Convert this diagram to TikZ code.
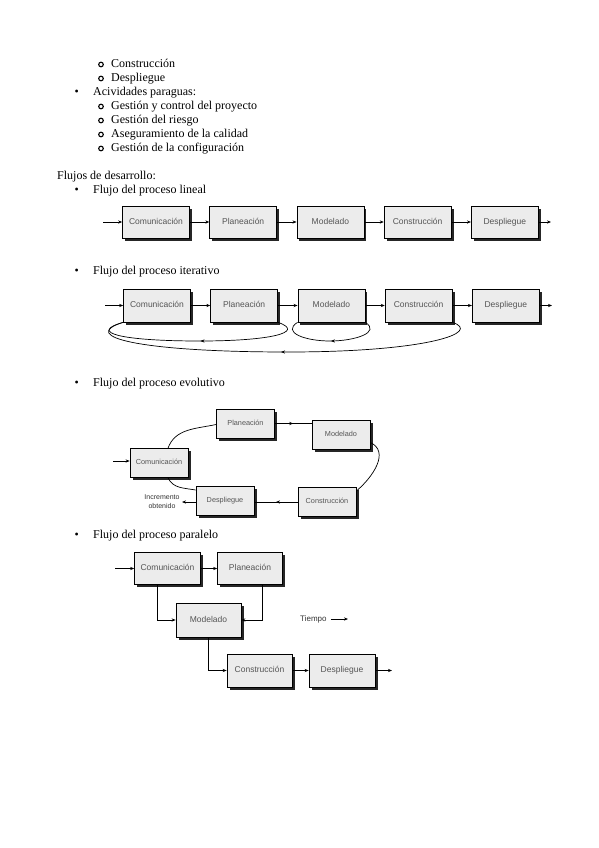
\documentclass[tikz,border=0pt]{standalone}
\usepackage{fontspec}
\setmainfont{Liberation Serif}
\newfontfamily\cajafont{Liberation Sans}
\usetikzlibrary{positioning,arrows.meta,shadows,calc,decorations.markings}
\definecolor{cajagris}{RGB}{236,236,236}
\definecolor{textogris}{RGB}{85,85,85}

\begin{document}
\begin{tikzpicture}[x=1pt, y=1pt,
    every node/.style={font=\fontsize{12}{14}\selectfont},
    texto/.style={anchor=base west, inner sep=0pt},
    vineta/.style={circle, draw, line width=1.1pt, minimum size=4.6pt, inner sep=0pt},
    caja/.style={draw, line width=0.7pt, fill=cajagris, text=textogris, inner sep=0pt,
        minimum width=67pt, minimum height=32pt, font=\cajafont\fontsize{8.5}{10}\selectfont,
        text height=6.3pt, text depth=1.8pt,
        general shadow={fill=black!85, shadow xshift=2.5pt, shadow yshift=-2.5pt}},
    cajachica/.style={caja, minimum width=58pt, minimum height=29pt, font=\cajafont\fontsize{7.3}{9}\selectfont,
        text height=5.4pt, text depth=1.5pt},
    rotulo/.style={inner sep=0pt, text=black!80, font=\cajafont\fontsize{7}{8.5}\selectfont},
    flecha/.style={-{Stealth[length=4pt, width=3.2pt]}, line width=0.8pt},
    lazo/.style={line width=0.7pt, postaction={decorate},
        decoration={markings, mark=at position #1 with {\arrow{Stealth[length=4pt, width=3.2pt]}}}}]
    \useasboundingbox (0,0) rectangle (599,-848);

    % lista
    \node[vineta] (v1) at (101,-64.5) {};
    \node[texto] (t1) at (111,-67.5) {Construcción};
    \node[vineta] (v2) at (101,-78.5) {};
    \node[texto] (t2) at (111,-81.5) {Despliegue};
    \node[texto] (b1) at (74.5,-95.5) {•};
    \node[texto] (t3) at (93,-95.5) {Acividades paraguas:};
    \node[vineta] (v3) at (101,-106.5) {};
    \node[texto] (t4) at (111,-109.5) {Gestión y control del proyecto};
    \node[vineta] (v4) at (101,-120.5) {};
    \node[texto] (t5) at (111,-123.5) {Gestión del riesgo};
    \node[vineta] (v5) at (101,-134.5) {};
    \node[texto] (t6) at (111,-137.5) {Aseguramiento de la calidad};
    \node[vineta] (v6) at (101,-148.5) {};
    \node[texto] (t7) at (111,-151.5) {Gestión de la configuración};
    \node[texto] (t8) at (57,-179.5) {Flujos de desarrollo:};

    % lineal
    \node[texto] (b2) at (74.5,-193) {•};
    \node[texto] (t9) at (93,-193) {Flujo del proceso lineal};
    \node[caja] (com1) at (156,-222) {Comunicación};
    \node[caja, right=19.5pt of com1] (pla1) {Planeación};
    \node[caja, right=19.5pt of pla1] (mod1) {Modelado};
    \node[caja, right=19.5pt of mod1] (con1) {Construcción};
    \node[caja, right=19.5pt of con1] (des1) {Despliegue};
    \coordinate (entra1) at (103,-222);
    \coordinate (sale1) at (551,-222);
    \draw[flecha] (entra1) -- (com1);
    \draw[flecha] (com1) -- (pla1);
    \draw[flecha] (pla1) -- (mod1);
    \draw[flecha] (mod1) -- (con1);
    \draw[flecha] (con1) -- (des1);
    \draw[flecha] (des1) -- (sale1);

    % iterativo
    \node[texto] (b3) at (74.5,-274) {•};
    \node[texto] (t10) at (93,-274) {Flujo del proceso iterativo};
    \node[caja, minimum height=33pt] (com2) at (157,-305.5) {Comunicación};
    \node[caja, minimum height=33pt, right=19.5pt of com2] (pla2) {Planeación};
    \node[caja, minimum height=33pt, right=19.5pt of pla2] (mod2) {Modelado};
    \node[caja, minimum height=33pt, right=19.5pt of mod2] (con2) {Construcción};
    \node[caja, minimum height=33pt, right=19.5pt of con2] (des2) {Despliegue};
    \coordinate (entra2) at (105,-305.5);
    \coordinate (sale2) at (552,-305.5);
    \coordinate (ret1) at (200,-341);
    \coordinate (ret2) at (330,-341);
    \coordinate (ret3) at (288,-352);
    \draw[flecha] (entra2) -- (com2);
    \draw[flecha] (com2) -- (pla2);
    \draw[flecha] (pla2) -- (mod2);
    \draw[flecha] (mod2) -- (con2);
    \draw[flecha] (con2) -- (des2);
    \draw[flecha] (des2) -- (sale2);
    \draw[lazo=0.48] (pla2.south east) .. controls +(28,-10) and +(70,0) .. (ret1)
        .. controls +(-80,0) and +(-35,-10) .. (com2.south west);
    \draw[lazo=0.5] (mod2.south east) .. controls +(16,-10) and +(25,0) .. (ret2)
        .. controls +(-25,0) and +(-16,-10) .. (mod2.south west);
    \draw[lazo=0.5] (con2.south east) .. controls +(30,-10) and +(140,0) .. (ret3)
        .. controls +(-150,0) and +(-45,-14) .. (com2.south west);

    % evolutivo
    \node[texto] (b4) at (74.5,-386.5) {•};
    \node[texto] (t11) at (93,-386.5) {Flujo del proceso evolutivo};
    \node[cajachica] (com3) at (159,-463) {Comunicación};
    \node[cajachica] (pla3) at (245.5,-423.5) {Planeación};
    \node[cajachica] (mod3) at (341,-434.5) {Modelado};
    \node[cajachica] (con3) at (327,-502) {Construcción};
    \node[cajachica] (des3) at (225,-501) {Despliegue};
    \node[rotulo, align=center] (incr) at (162,-501.5) {Incremento\\obtenido};
    \coordinate (entra3) at (113,-461);
    \coordinate (sale3) at (182,-502);
    \draw[flecha, line width=0.6pt] (entra3) -- (entra3 -| com3.west);
    \draw[line width=0.7pt] ([xshift=9pt]com3.north) to[out=70, in=192] ([yshift=-1pt]pla3.west);
    \draw[lazo=0.5] (pla3.east) -- (pla3.east -| mod3.west);
    \draw[line width=0.7pt] ([yshift=-8pt]mod3.east) to[out=-25, in=40, looseness=1.1] ([yshift=11pt]con3.east);
    \draw[lazo=0.5] (con3.west) -- (con3.west -| des3.east);
    \draw[line width=0.7pt] ([yshift=11pt]des3.west) to[out=170, in=-65] ([xshift=9pt]com3.south);
    \draw[flecha] (des3.west |- sale3) -- (sale3);

    % paralelo
    \node[texto] (b5) at (74.5,-538.5) {•};
    \node[texto] (t12) at (93,-538.5) {Flujo del proceso paralelo};
    \node[caja, minimum width=66pt] (com4) at (167.5,-568.5) {Comunicación};
    \node[caja, minimum width=65pt] (pla4) at (250,-568.5) {Planeación};
    \node[caja, minimum width=65pt, minimum height=34pt] (mod4) at (208.5,-620) {Modelado};
    \node[caja, minimum width=65pt, minimum height=33pt] (con4) at (259.5,-670.5) {Construcción};
    \node[caja, minimum width=66pt, minimum height=33pt] (des4) at (342,-670.5) {Despliegue};
    \node[rotulo, font=\cajafont\fontsize{8}{10}\selectfont, anchor=west] (tiempo) at (300,-619) {Tiempo};
    \coordinate (entra4) at (115,-568.5);
    \coordinate (sale4) at (392,-670.5);
    \coordinate (fin4) at (348,-619);
    \draw[flecha] (entra4) -- (com4);
    \draw[flecha] (com4) -- (pla4);
    \draw[flecha] ([xshift=-10.5pt]com4.south) |- (mod4.west);
    \draw[flecha] ([xshift=12pt]pla4.south) |- (mod4.east);
    \draw[flecha] (mod4.south) |- (con4.west);
    \draw[flecha] (con4) -- (des4);
    \draw[flecha] (des4) -- (sale4);
    \draw[flecha, line width=0.6pt] ([xshift=4pt]tiempo.east) -- (fin4);
\end{tikzpicture}
\end{document}
